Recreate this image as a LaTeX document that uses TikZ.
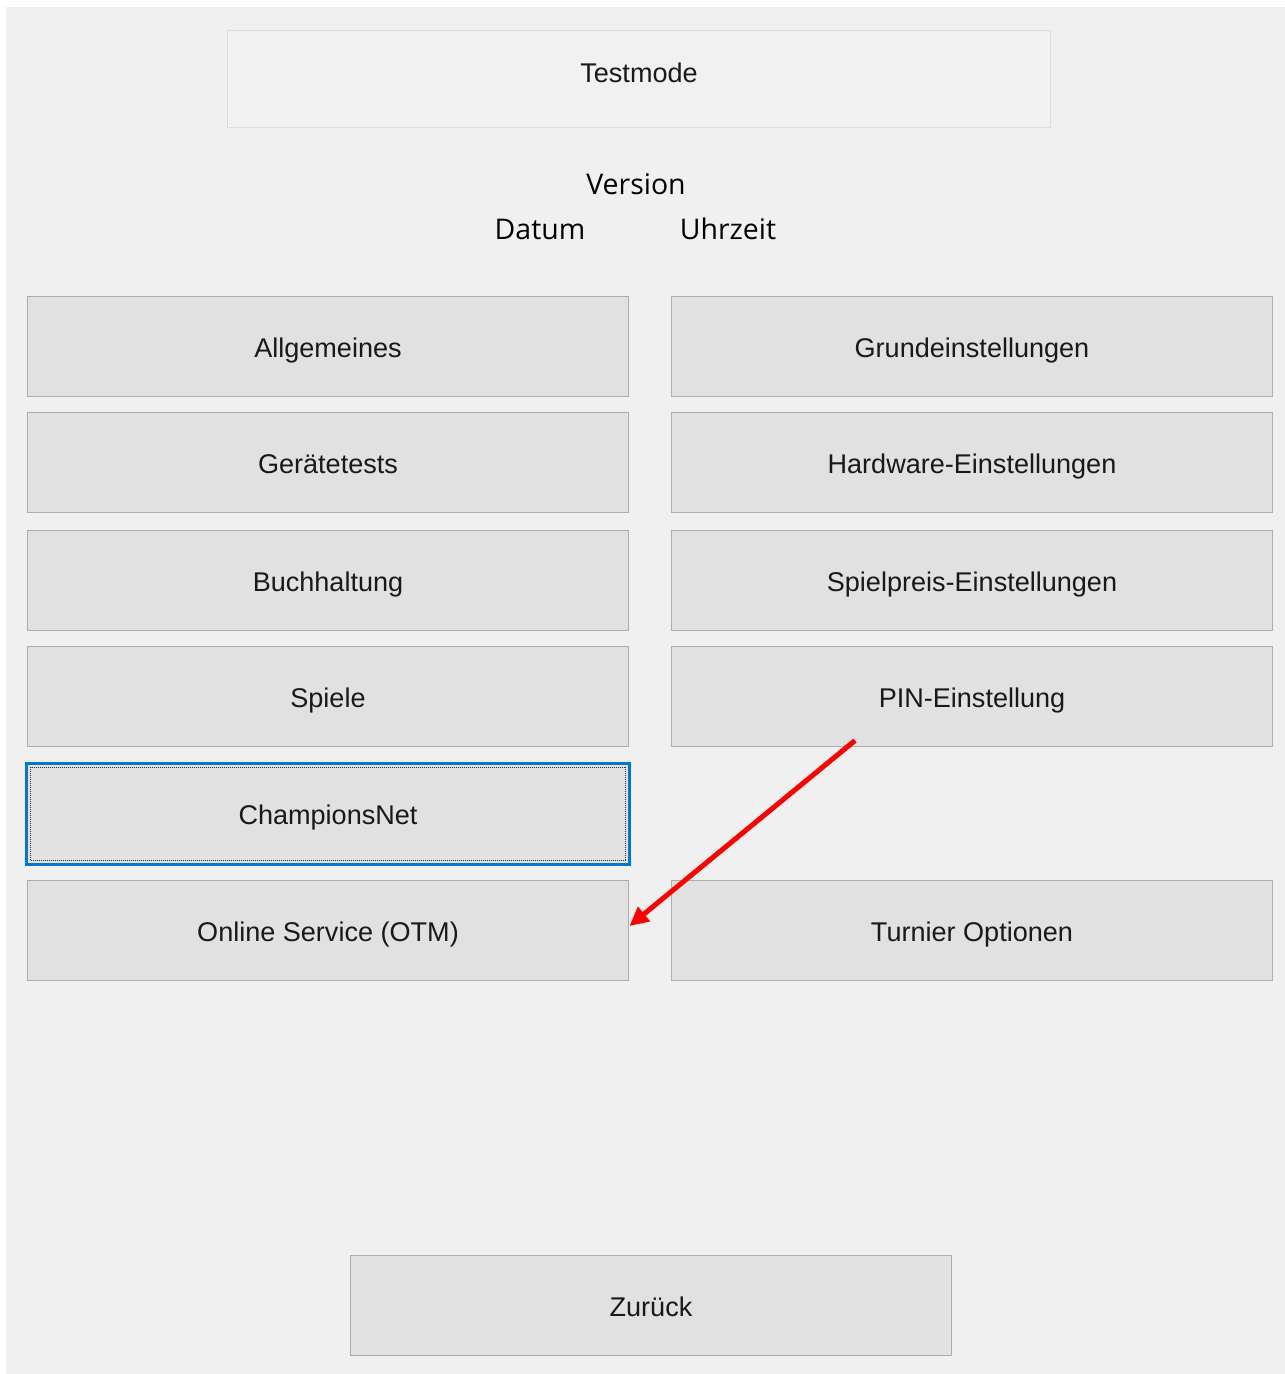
\documentclass[tikz,border=0pt]{standalone}
\usepackage{fontspec}
\setmainfont{Liberation Sans}
\newfontfamily\uifont{Open Sans}
\usepackage{xcolor}
\usetikzlibrary{arrows.meta, positioning}

\definecolor{fondo}{HTML}{F0F0F0}
\definecolor{boton}{HTML}{E1E1E1}
\definecolor{borde}{HTML}{ADADAD}
\definecolor{bordeclaro}{HTML}{DCDCDC}
\definecolor{foco}{HTML}{0078D7}

\tikzset{
  btn/.style={draw=borde, fill=boton, line width=0.02cm,
    minimum width=12.04cm, minimum height=2cm, inner sep=0pt,
    text height=12.9pt, text depth=0pt,
    font=\fontsize{15.4}{18}\selectfont, text=black!90},
  btnoff/.style={btn, draw=bordeclaro, fill=fondo!95!white,
    minimum width=16.48cm, minimum height=1.94cm, text height=4.2pt},
  infotxt/.style={font=\uifont\fontsize{16.2}{19}\selectfont, text=black, inner sep=0pt},
  flecha/.style={draw=red, line width=0.1cm, -{Triangle[length=0.38cm, width=0.36cm]}}
}

\begin{document}
\begin{tikzpicture}[x=0.02cm, y=-0.02cm]
  % Fondo de la ventana
  \useasboundingbox (0,0) rectangle (1285,1374);
  \fill[white] (0,0) rectangle (1285,1374);
  \fill[fondo] (6,7) rectangle (1285,1374);

  % Botón superior y datos de versión
  \node[btnoff] (testmode) at (639,78.5) {Testmode};
  \node[infotxt] (version) at (636,184) {Version};
  \node[infotxt] (datum) at (540,229) {Datum};
  \node[infotxt] (uhrzeit) at (728,229) {Uhrzeit};

  % Columna izquierda
  \foreach \name/\txt/\y in {allg/Allgemeines/346, geraete/Gerätetests/462,
      buch/Buchhaltung/580, spiele/Spiele/696, otm/Online Service (OTM)/930} {
    \node[btn] (\name) at (328,\y) {\txt};
  }
  \node[btn] (champ) at (328,813.5) {ChampionsNet};
  \draw[foco, line width=0.06cm] (champ.south west) rectangle (champ.north east);
  \draw[black!80, line width=0.02cm, dash pattern=on 0.02cm off 0.02cm]
    ([xshift=0.08cm, yshift=0.08cm]champ.south west) rectangle ([xshift=-0.08cm, yshift=-0.08cm]champ.north east);

  % Columna derecha
  \foreach \name/\txt/\y in {grund/Grundeinstellungen/346, hw/Hardware-Einstellungen/462,
      preis/Spielpreis-Einstellungen/580, pin/PIN-Einstellung/696, turnier/Turnier Optionen/930} {
    \node[btn] (\name) at (972,\y) {\txt};
  }

  % Botón de salida
  \node[btn] (zurueck) at (651,1305) {Zurück};

  % Flecha roja
  \coordinate (ini) at ([xshift=-2.34cm, yshift=0.12cm]pin.south);
  \draw[flecha] (ini) -- ([yshift=0.08cm]otm.east);
\end{tikzpicture}
\end{document}
